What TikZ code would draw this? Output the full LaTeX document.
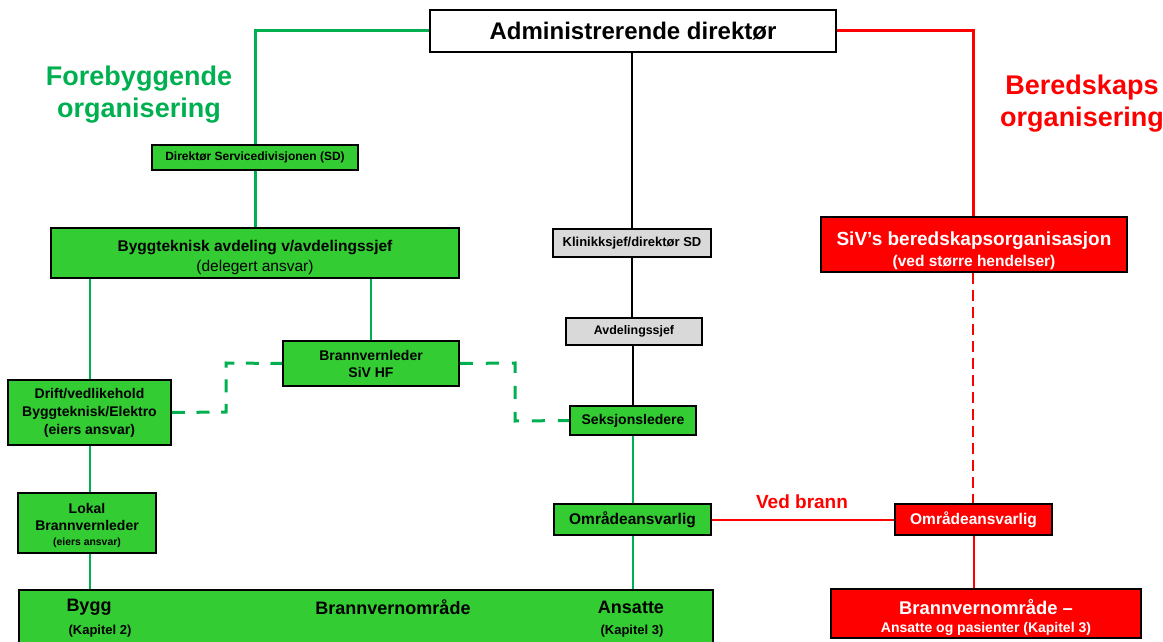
\documentclass[tikz,border=0pt]{standalone}
\usepackage{fontspec}
\setmainfont{Liberation Sans}
\definecolor{gfill}{HTML}{33CC33}
\definecolor{gline}{HTML}{00B050}
\definecolor{rred}{HTML}{FF0000}
\definecolor{gbox}{HTML}{D9D9D9}
\newcommand{\fs}[1]{\fontsize{#1}{#1}\selectfont}
\newcommand{\pushdown}[1]{\rule{0pt}{#1}}
\begin{document}
\begin{tikzpicture}[x=1pt,y=-1pt,
  bx/.style={draw=black,line width=1.8pt,inner sep=0pt,align=center,font=\bfseries},
  gb/.style={bx,fill=gfill},
  rb/.style={bx,fill=rred,text=white},
  grb/.style={bx,fill=gbox},
  thickg/.style={draw=gline,line width=3pt},
  thing/.style={draw=gline,line width=2pt},
  dashg/.style={draw=gline,line width=3pt,dash pattern=on 13pt off 11.6pt},
  dashg2/.style={draw=gline,line width=3pt,dash pattern=on 13pt off 13pt},
  thickr/.style={draw=rred,line width=3pt},
  thinr/.style={draw=rred,line width=2pt},
  dashr/.style={draw=rred,line width=2pt,dash pattern=on 11pt off 6pt},
  blk/.style={draw=black,line width=1.8pt}]
\useasboundingbox (0,0) rectangle (1163,642);
\begin{scope}
\clip (0,0) rectangle (1163,642);
\coordinate (c1) at (255,31);
\coordinate (c2) at (973,31);
\coordinate (d1) at (226,412);
\coordinate (d2) at (226,363);
\coordinate (d3) at (515,363);
\coordinate (d4) at (515,421);

\node[bx,fill=white,minimum width=406pt,minimum height=42pt,font=\bfseries\fs{24}] (adm) at (633,31) {Administrerende direktør};
\node[gb,minimum width=206pt,minimum height=25pt,font=\bfseries\fs{12}] (sd) at (255,157.5) {Direktør Servicedivisjonen (SD)};
\node[gb,minimum width=408pt,minimum height=50pt] (byg) at (255,253) {\fs{15.5}\pushdown{20pt}Byggteknisk avdeling v/avdelingssjef\\[4pt]\fs{15.5}\mdseries(delegert ansvar)};
\node[gb,minimum width=176pt,minimum height=45pt,font=\bfseries\fs{14}] (bvl) at (371,363.5) {Brannvernleder\\[3pt]SiV HF};
\node[gb,minimum width=163pt,minimum height=65pt,font=\bfseries\fs{14}] (drift) at (89.5,412.5) {Drift/vedlikehold\\[4pt]Byggteknisk/Elektro\\[4pt](eiers ansvar)};
\node[gb,minimum width=138pt,minimum height=60pt] (lokal) at (87,523) {\fs{14}\pushdown{16pt}Lokal\\[5pt]\fs{14}Brannvernleder\\[3pt]\fs{10.4}(eiers ansvar)};
\node[gb,minimum width=694pt,minimum height=75pt,anchor=north west] (big) at (18,589) {};
\node[grb,minimum width=158pt,minimum height=28pt,font=\bfseries\fs{13}] (klin) at (632,243) {Klinikksjef/direktør SD};
\node[grb,minimum width=136pt,minimum height=27pt,font=\bfseries\fs{12.4}] (avd) at (634,331.5) {Avdelingssjef};
\node[gb,minimum width=126pt,minimum height=29pt,font=\bfseries\fs{14}] (seks) at (633,420.5) {Seksjonsledere};
\node[gb,minimum width=157pt,minimum height=31pt,font=\bfseries\fs{15.5}] (omr) at (632.5,519.5) {Områdeansvarlig};
\node[rb,minimum width=157pt,minimum height=31pt,font=\bfseries\fs{15.5}] (omr2) at (973.5,519.5) {Områdeansvarlig};
\node[rb,minimum width=306pt,minimum height=55pt] (siv) at (974,244.5) {\fs{19}\pushdown{26pt}SiV’s beredskapsorganisasjon\\[4pt]\fs{15.5}(ved større hendelser)};
\node[rb,minimum width=310pt,minimum height=49pt] (bvo) at (986,613.5) {\fs{18.4}\pushdown{22pt}Brannvernområde –\\[6pt]\fs{14}Ansatte og pasienter (Kapitel 3)};

% labels
\node[font=\bfseries\fs{27},text=gline,align=center] (fore) at (139,95) {Forebyggende\\[5pt]organisering};
\node[font=\bfseries\fs{27},text=rred,align=center] (bere) at (1082,104) {Beredskaps\\[5pt]organisering};
\node[font=\bfseries\fs{19},text=rred] (ved) at (802,502) {Ved brann};
\node[font=\bfseries\fs{18}] (t1) at (89,607) {Bygg};
\node[font=\bfseries\fs{13}] (t2) at (100,631) {(Kapitel 2)};
\node[font=\bfseries\fs{18}] (t3) at (393,607) {Brannvernområde};
\node[font=\bfseries\fs{18}] (t4) at (631,607) {Ansatte};
\node[font=\bfseries\fs{13}] (t5) at (632,631) {(Kapitel 3)};

% connectors
\path[thickg] (adm.west) -- (c1) -- (sd.north);
\path[thickg] (sd.south) -- (byg.north);
\path[thing] (byg.south -| drift.north) -- (drift.north);
\path[thing] (byg.south -| bvl.north) -- (bvl.north);
\path[thing] (drift.south) -- (lokal.north -| drift.south);
\path[thing] (lokal.south -| drift.south) -- (big.north -| drift.south);
\path[dashg] (drift.east) -- (d1) -- (d2) -- (bvl.west);
\path[dashg2] (bvl.east) -- (d3) -- (d4) -- (seks.west);
\path[blk] (adm.south -| klin.north) -- (klin.north);
\path[blk] (klin.south) -- (avd.north -| klin.south);
\path[blk] (avd.south -| seks.north) -- (seks.north);
\path[thing] (seks.south) -- (omr.north -| seks.south);
\path[thing] (omr.south) -- (big.north -| omr.south);
\path[thinr] (omr.east) -- (omr2.west);
\path[thickr] (adm.east) -- (c2) -- (siv.north -| c2);
\path[dashr] (siv.south -| c2) -- (omr2.north -| c2);
\path[thinr] (omr2.south) -- (bvo.north -| omr2.south);
\end{scope}
\end{tikzpicture}
\end{document}
